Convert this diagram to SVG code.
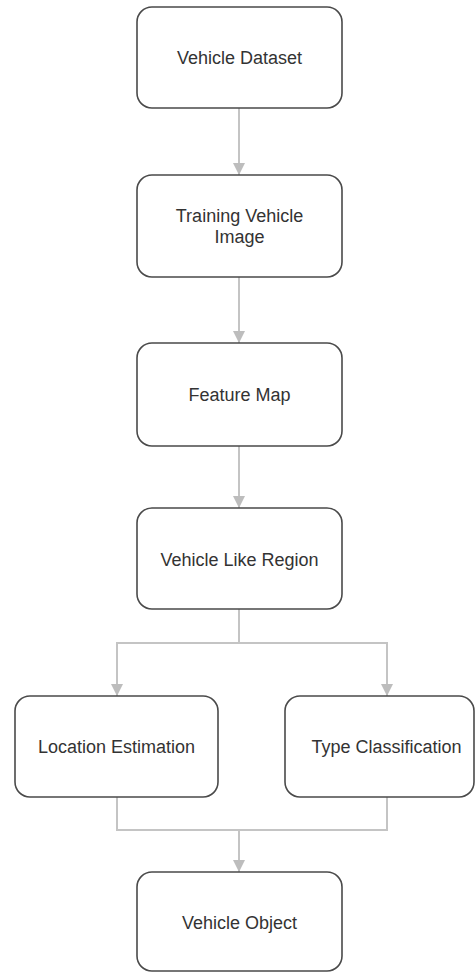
<svg xmlns="http://www.w3.org/2000/svg" width="476" height="973" viewBox="0 0 476 973">
<defs>
<style>
.box{fill:#fff;stroke:#4a4a4a;stroke-width:1.6}
.lbl{font-family:"Liberation Sans",Arial,sans-serif;font-size:18px;fill:#333;text-anchor:middle}
.con{fill:none;stroke:#c4c4c4;stroke-width:2}
</style>
<marker id="arr" markerWidth="12" markerHeight="12" refX="6" refY="11" orient="auto-start-reverse" markerUnits="userSpaceOnUse" viewBox="0 0 12 12">
<path d="M0,0 L12,0 L6,12 Z" fill="#bdbdbd" transform="rotate(-90 6 6)"/>
</marker>
<marker id="ah" markerWidth="12" markerHeight="13" refX="12" refY="6" orient="auto" markerUnits="userSpaceOnUse" viewBox="0 0 12 12">
<path d="M0,0 L12,6 L0,12 Z" fill="#bdbdbd"/>
</marker>
</defs>
<rect width="476" height="973" fill="#fff"/>
<g id="connectors">
<path class="con" d="M239,108 V175" marker-end="url(#ah)"/>
<path class="con" d="M239,277 V343" marker-end="url(#ah)"/>
<path class="con" d="M239,446 V508" marker-end="url(#ah)"/>
<path class="con" d="M239,609 V643 H117 V696" marker-end="url(#ah)"/>
<path class="con" d="M239,643 H387 V696" marker-end="url(#ah)"/>
<path class="con" d="M117,797 V830 H387 V797"/>
<path class="con" d="M239,830 V872" marker-end="url(#ah)"/>
</g>
<g id="n1"><rect class="box" x="137" y="7" width="205" height="101" rx="15"/><text class="lbl" x="239.5" y="64">Vehicle Dataset</text></g>
<g id="n2"><rect class="box" x="137" y="175" width="205" height="102" rx="15"/><text class="lbl" x="239.5" y="222">Training Vehicle</text><text class="lbl" x="239.5" y="243">Image</text></g>
<g id="n3"><rect class="box" x="137" y="343" width="205" height="103" rx="15"/><text class="lbl" x="239.5" y="401">Feature Map</text></g>
<g id="n4"><rect class="box" x="137" y="508" width="205" height="101" rx="15"/><text class="lbl" x="239.5" y="566">Vehicle Like Region</text></g>
<g id="n5"><rect class="box" x="15" y="696" width="203" height="101" rx="15"/><text class="lbl" x="116.5" y="753">Location Estimation</text></g>
<g id="n6"><rect class="box" x="285" y="696" width="189" height="101" rx="15"/><text class="lbl" x="386.5" y="753">Type Classification</text></g>
<g id="n7"><rect class="box" x="137" y="872" width="205" height="99" rx="15"/><text class="lbl" x="239.5" y="929">Vehicle Object</text></g>
</svg>
